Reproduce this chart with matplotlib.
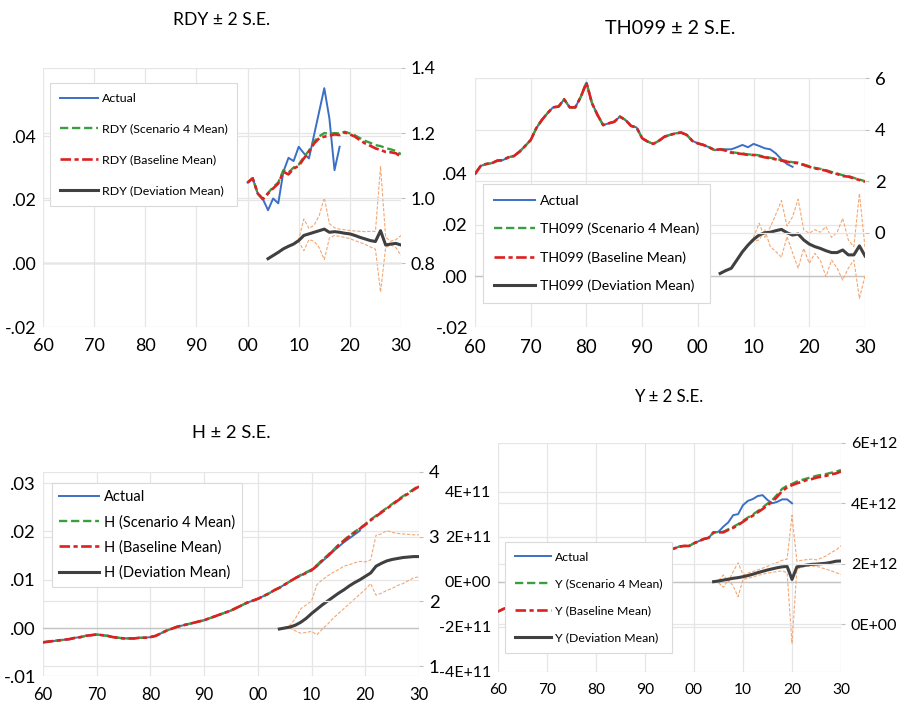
import matplotlib.pyplot as plt
import numpy as np
from matplotlib.ticker import FuncFormatter

plt.rcParams['font.family'] = ['Lato', 'DejaVu Sans']

# ---------------- RDY (levels 2000-2030, deviation 2004-2030) ----------------
rdy_base = [1.048, 1.061, 1.014, 0.997, 1.014, 1.030, 1.045, 1.081, 1.073, 1.091,
            1.099, 1.122, 1.142, 1.168, 1.184, 1.189, 1.192, 1.196, 1.194, 1.202,
            1.196, 1.189, 1.178, 1.168, 1.161, 1.153, 1.148, 1.142, 1.141, 1.138, 1.127]
rdy_scen = [1.048, 1.061, 1.014, 0.997, 1.016, 1.034, 1.048, 1.086, 1.079, 1.094,
            1.103, 1.126, 1.146, 1.174, 1.190, 1.200, 1.198, 1.200, 1.199, 1.204,
            1.199, 1.193, 1.184, 1.176, 1.170, 1.163, 1.160, 1.154, 1.150, 1.145, 1.135]
rdy_actual = [1.048, 1.061, 1.014, 0.997, 0.963, 0.999, 0.984, 1.081, 1.124, 1.114,
              1.158, 1.138, 1.122, 1.194, 1.266, 1.338, 1.245, 1.086, 1.158]
rdy_dev = [0.0015, 0.0025, 0.0035, 0.0046, 0.0054, 0.0061, 0.0072, 0.0088, 0.0093, 0.0098,
           0.0103, 0.0108, 0.0098, 0.0100, 0.0098, 0.0095, 0.0093, 0.0088, 0.0082, 0.0077,
           0.0072, 0.0069, 0.0103, 0.0058, 0.0061, 0.0063, 0.0058]
rdy_up = [0.0015, 0.0025, 0.0035, 0.0046, 0.0055, 0.0064, 0.0075, 0.0140, 0.0110, 0.0120,
          0.0150, 0.0207, 0.0125, 0.0112, 0.0108, 0.0106, 0.0104, 0.0102, 0.0101, 0.0100,
          0.0101, 0.0101, 0.0305, 0.0082, 0.0070, 0.0075, 0.0088]
rdy_lo = [0.0015, 0.0025, 0.0035, 0.0046, 0.0053, 0.0058, 0.0070, 0.0040, 0.0075, 0.0070,
          0.0050, 0.0012, 0.0080, 0.0088, 0.0085, 0.0082, 0.0078, 0.0072, 0.0066, 0.0060,
          0.0052, 0.0045, -0.0090, 0.0050, 0.0058, 0.0050, 0.0025]

# ---------------- TH099 (levels 1960-2030) ----------------
th_base = [2.29, 2.60, 2.68, 2.71, 2.81, 2.83, 2.94, 2.99, 3.16, 3.38,
           3.61, 4.07, 4.39, 4.65, 4.88, 4.91, 5.19, 4.88, 4.88, 5.29,
           5.84, 5.04, 4.58, 4.19, 4.26, 4.32, 4.52, 4.39, 4.16, 4.10,
           3.68, 3.55, 3.46, 3.58, 3.74, 3.81, 3.87, 3.90, 3.81, 3.58,
           3.48, 3.42, 3.33, 3.22, 3.25, 3.20, 3.12, 3.09, 3.07, 3.03,
           3.03, 2.99, 2.94, 2.90, 2.86, 2.81, 2.77, 2.73, 2.71, 2.64,
           2.57, 2.51, 2.47, 2.42, 2.34, 2.29, 2.21, 2.19, 2.12, 2.06, 1.99]
# scenario and actual share the fitted history up to 2003
th_scen_fc = [3.26, 3.22, 3.14, 3.11, 3.09, 3.05, 3.05, 3.01, 2.96, 2.92,
              2.88, 2.83, 2.79, 2.75, 2.73, 2.66, 2.59, 2.53, 2.49, 2.44,
              2.37, 2.31, 2.24, 2.21, 2.14, 2.08, 2.01]
th_actual_fc = [3.25, 3.25, 3.25, 3.33, 3.42, 3.33, 3.46, 3.38, 3.29, 3.25,
                3.09, 2.86, 2.68, 2.57]
th_dev = [0.0010, 0.0021, 0.0030, 0.0062, 0.0094, 0.0120, 0.0142, 0.0159, 0.0168, 0.0170,
          0.0176, 0.0181, 0.0168, 0.0159, 0.0163, 0.0140, 0.0124, 0.0114, 0.0107, 0.0098,
          0.0091, 0.0091, 0.0101, 0.0082, 0.0082, 0.0117, 0.0078]
th_up = [0.0010, 0.0021, 0.0030, 0.0062, 0.0094, 0.0120, 0.0150, 0.0205, 0.0150, 0.0190,
         0.0240, 0.0293, 0.0194, 0.0230, 0.0298, 0.0179, 0.0166, 0.0180, 0.0170, 0.0192,
         0.0150, 0.0170, 0.0224, 0.0140, 0.0114, 0.0321, 0.0110]
th_lo = [0.0010, 0.0021, 0.0030, 0.0062, 0.0094, 0.0120, 0.0135, 0.0140, 0.0180, 0.0114,
         0.0095, 0.0073, 0.0153, 0.0090, 0.0030, 0.0107, 0.0049, 0.0088, 0.0060, -0.0003,
         0.0062, 0.0030, -0.0016, 0.0030, 0.0062, -0.0087, 0.0000]

# ---------------- H (levels 1960-2030) ----------------
h_base = [1.37, 1.38, 1.39, 1.40, 1.41, 1.42, 1.44, 1.45, 1.47, 1.48,
          1.49, 1.48, 1.47, 1.45, 1.44, 1.43, 1.43, 1.43, 1.44, 1.44,
          1.45, 1.47, 1.51, 1.55, 1.58, 1.61, 1.63, 1.65, 1.67, 1.69,
          1.71, 1.74, 1.77, 1.80, 1.83, 1.86, 1.90, 1.94, 1.98, 2.01,
          2.04, 2.08, 2.12, 2.17, 2.21, 2.26, 2.31, 2.36, 2.40, 2.44,
          2.48, 2.55, 2.63, 2.70, 2.78, 2.86, 2.93, 3.00, 3.06, 3.12,
          3.18, 3.25, 3.31, 3.37, 3.43, 3.49, 3.55, 3.61, 3.66, 3.72, 3.77]
h_scen_fc = [2.21, 2.26, 2.31, 2.36, 2.41, 2.45, 2.49, 2.56, 2.64, 2.71,
             2.79, 2.87, 2.94, 3.01, 3.07, 3.13, 3.19, 3.26, 3.32, 3.38,
             3.44, 3.50, 3.56, 3.62, 3.67, 3.73, 3.78]
h_actual_fc = [2.54, 2.62, 2.69, 2.77, 2.84, 2.91, 2.97, 3.03, 3.09]   # 2011-2019
h_dev = [-0.0002, 0.0000, 0.0002, 0.0006, 0.0012, 0.0020, 0.0030, 0.0039, 0.0048, 0.0056,
         0.0064, 0.0072, 0.0079, 0.0087, 0.0094, 0.0100, 0.0107, 0.0114, 0.0128, 0.0134,
         0.0139, 0.0142, 0.0144, 0.0146, 0.0147, 0.0148, 0.0148]
h_up = [-0.0002, 0.0001, 0.0006, 0.0020, 0.0040, 0.0048, 0.0056, 0.0090, 0.0100, 0.0108,
        0.0115, 0.0121, 0.0128, 0.0131, 0.0135, 0.0138, 0.0137, 0.0141, 0.0192, 0.0195,
        0.0202, 0.0198, 0.0196, 0.0195, 0.0194, 0.0193, 0.0193]
h_lo = [-0.0002, 0.0000, 0.0000, -0.0006, -0.0011, -0.0009, -0.0007, -0.0014, -0.0002, 0.0008,
        0.0020, 0.0030, 0.0040, 0.0050, 0.0060, 0.0070, 0.0080, 0.0092, 0.0068, 0.0072,
        0.0078, 0.0082, 0.0088, 0.0092, 0.0098, 0.0104, 0.0106]

# ---------------- Y (levels in 1E12, deviations in 1E11) ----------------
y_base = [0.42, 0.50, 0.56, 0.62, 0.68, 0.74, 0.80, 0.85, 0.91, 0.97,
          1.01, 1.06, 1.12, 1.19, 1.21, 1.23, 1.30, 1.36, 1.43, 1.48,
          1.50, 1.54, 1.54, 1.60, 1.68, 1.74, 1.80, 1.86, 1.93, 1.99,
          2.04, 2.06, 2.13, 2.21, 2.32, 2.45, 2.51, 2.57, 2.59, 2.59,
          2.68, 2.75, 2.82, 2.86, 3.04, 3.04, 3.04, 3.12, 3.19, 3.28,
          3.39, 3.50, 3.59, 3.70, 3.81, 3.94, 4.05, 4.22, 4.41, 4.52,
          4.60, 4.66, 4.71, 4.77, 4.80, 4.85, 4.88, 4.91, 4.96, 4.99, 5.05]
y_scen_fc = [3.04, 3.05, 3.06, 3.14, 3.22, 3.31, 3.42, 3.53, 3.63, 3.74,
             3.86, 3.99, 4.11, 4.29, 4.48, 4.58, 4.64, 4.72, 4.77, 4.82,
             4.86, 4.91, 4.94, 4.97, 5.01, 5.05, 5.10]
y_actual_fc = [3.06, 3.23, 3.37, 3.61, 3.64, 3.94, 4.08, 4.14, 4.24, 4.27,
               4.11, 4.00, 4.05, 4.13, 4.13, 4.00]   # 2005-2020
y_dev = [0.00, 0.03, 0.07, 0.11, 0.15, 0.18, 0.22, 0.27, 0.33, 0.40,
         0.46, 0.52, 0.57, 0.62, 0.66, 0.68, 0.10, 0.66, 0.70, 0.74,
         0.77, 0.78, 0.80, 0.82, 0.86, 0.91, 0.92]
y_up = [0.00, 0.05, 0.30, 0.00, 0.45, 0.84, 0.30, 0.38, 0.45, 0.52,
        0.60, 0.68, 0.78, 0.85, 0.95, 1.00, 2.95, 0.90, 0.95, 0.98,
        1.00, 0.97, 1.05, 1.15, 1.30, 1.40, 1.60]
y_lo = [0.00, -0.05, -0.25, 0.10, -0.20, -0.67, 0.10, 0.15, 0.20, 0.28,
        0.33, 0.38, 0.42, 0.45, 0.48, 0.40, -2.74, 0.55, 0.65, 0.68,
        0.70, 0.68, 0.62, 0.55, 0.48, 0.40, 0.32]

yrs_all = np.arange(1960, 2031)
yrs_rdy = np.arange(2000, 2031)
yrs_dev = np.arange(2004, 2031)
decades = np.arange(1960, 2031, 10)
decade_labels = ["60", "70", "80", "90", "00", "10", "20", "30"]

C_ACT = "#3b6fc6"
C_SCEN = "#3a9e40"
C_BASE = "#dd2121"
C_DEV = "#404040"
C_BAND = "#f4a772"
GRID = "#e6e6e6"

W, H = 899, 706
fig = plt.figure(figsize=(W / 100, H / 100), dpi=100)


def px_rect(x0, y0, x1, y1):
    return [x0 / W, 1 - y1 / H, (x1 - x0) / W, (y1 - y0) / H]


def lead_fmt(v, pos):
    return f"{v:.2f}".replace("0.", ".", 1)


def draw_panel(rect, name, title_xy, title_size,
               lev_x, base, scen, act_x, actual, dev, up, lo,
               left_lim, left_ticks, left_fmt, right_lim, right_ticks, right_fmt,
               tick_size, x_size, leg_xy, leg_size, leg_spacing, leg_pad, leg_hl):
    ax = fig.add_axes(px_rect(*rect))
    ax2 = ax.twinx()
    for a in (ax, ax2):
        for s in a.spines.values():
            s.set_visible(False)

    ax.set_xlim(1960, 2030)
    ax.set_xticks(decades)
    ax.set_xticklabels(decade_labels)
    ax.xaxis.grid(True, color=GRID, lw=0.9)
    ax.set_ylim(*left_lim)
    ax.set_yticks(left_ticks)
    ax.yaxis.set_major_formatter(FuncFormatter(left_fmt))
    ax.yaxis.grid(True, color=GRID, lw=0.9)
    ax.axhline(0, color="#c4c4c4", lw=1.0, zorder=1)
    ax.tick_params(axis="y", length=0, labelsize=tick_size, pad=5)
    ax.tick_params(axis="x", length=0, labelsize=x_size, pad=8)

    ax2.set_ylim(*right_lim)
    ax2.set_yticks(right_ticks)
    ax2.yaxis.set_major_formatter(FuncFormatter(right_fmt))
    ax2.yaxis.grid(True, color=GRID, lw=0.9)
    ax2.tick_params(axis="y", length=3, color="#bfbfbf", labelsize=tick_size, pad=4)
    ax.set_axisbelow(True)
    ax2.set_axisbelow(True)

    # deviation and +/- 2 S.E. bands on the left scale
    ax.plot(yrs_dev, up, color=C_BAND, lw=0.8, ls=(0, (3, 1.5)), zorder=3)
    ax.plot(yrs_dev, lo, color=C_BAND, lw=0.8, ls=(0, (3, 1.5)), zorder=3)
    h_dev, = ax.plot(yrs_dev, dev, color=C_DEV, lw=2.2, zorder=4)

    # levels on the right scale
    h_act, = ax2.plot(act_x, actual, color=C_ACT, lw=1.4)
    h_scen, = ax2.plot(lev_x, scen, color=C_SCEN, lw=1.7, ls=(0, (3.5, 1.6)))
    h_base, = ax2.plot(lev_x, base, color=C_BASE, lw=1.9, ls=(0, (4, 1.3, 1.6, 1.3)))

    leg = ax2.legend([h_act, h_scen, h_base, h_dev],
                     ["Actual", f"{name} (Scenario 4 Mean)",
                      f"{name} (Baseline Mean)", f"{name} (Deviation Mean)"],
                     loc="upper left", bbox_to_anchor=(leg_xy[0] / W, 1 - leg_xy[1] / H),
                     bbox_transform=fig.transFigure, borderaxespad=0,
                     fontsize=leg_size, labelspacing=leg_spacing, handlelength=leg_hl,
                     handletextpad=0.3, borderpad=leg_pad, fancybox=False,
                     framealpha=1, edgecolor="#dadada")
    leg.get_frame().set_linewidth(0.8)
    leg.set_zorder(10)

    fig.text(title_xy[0] / W, 1 - title_xy[1] / H, f"{name} \u00b1 2 S.E.",
             ha="center", va="center", fontsize=title_size)


draw_panel((43, 68, 401, 327), "RDY", (222, 20), 12.6,
           yrs_rdy, rdy_base, rdy_scen, np.arange(2000, 2019), rdy_actual,
           rdy_dev, rdy_up, rdy_lo,
           (-0.02, 0.0615), [-0.02, 0.0, 0.02, 0.04], lead_fmt,
           (0.604, 1.4), [0.8, 1.0, 1.2, 1.4], lambda v, p: f"{v:.1f}",
           12.8, 13, (50, 83), 8.95, 1.58, 0.8, 3.05)

draw_panel((475, 78.5, 865, 327.5), "TH099", (670, 28), 14.2,
           yrs_all, th_base, th_base[:44] + th_scen_fc,
           np.arange(1960, 2018), th_base[:44] + th_actual_fc,
           th_dev, th_up, th_lo,
           (-0.02, 0.0767), [-0.02, 0.0, 0.02, 0.04], lead_fmt,
           (-3.67, 6.0), [0, 2, 4, 6], lambda v, p: f"{v:.0f}",
           13.3, 13.5, (483, 184), 10.2, 1.13, 0.75, 2.95)

draw_panel((43, 471.6, 419, 676.3), "H", (231, 433), 13.2,
           yrs_all, h_base, h_base[:44] + h_scen_fc,
           np.arange(1960, 2020), h_base[:51] + h_actual_fc,
           h_dev, h_up, h_lo,
           (-0.01, 0.0324), [-0.01, 0.0, 0.01, 0.02, 0.03], lead_fmt,
           (0.846, 4.0), [1, 2, 3, 4], lambda v, p: f"{v:.0f}",
           13.3, 12, (52, 483), 10.5, 0.74, 0.5, 2.75)

draw_panel((498, 442.8, 841, 671.7), "Y", (669, 397), 12.1,
           yrs_all, np.array(y_base) * 1e12,
           np.array(y_base[:44] + y_scen_fc) * 1e12,
           np.arange(1960, 2021), np.array(y_base[:45] + y_actual_fc) * 1e12,
           np.array(y_dev) * 1e11, np.array(y_up) * 1e11, np.array(y_lo) * 1e11,
           (-4e11, 6.17e11), [-4e11, -2e11, 0, 2e11, 4e11], lambda v, p: f"{v:.0E}",
           (-1.567e12, 6e12), [0, 2e12, 4e12, 6e12], lambda v, p: f"{v:.0E}",
           11.5, 11.2, (505, 542), 8.85, 1.3, 0.78, 3.0)

fig.savefig("out.png", dpi=100)
